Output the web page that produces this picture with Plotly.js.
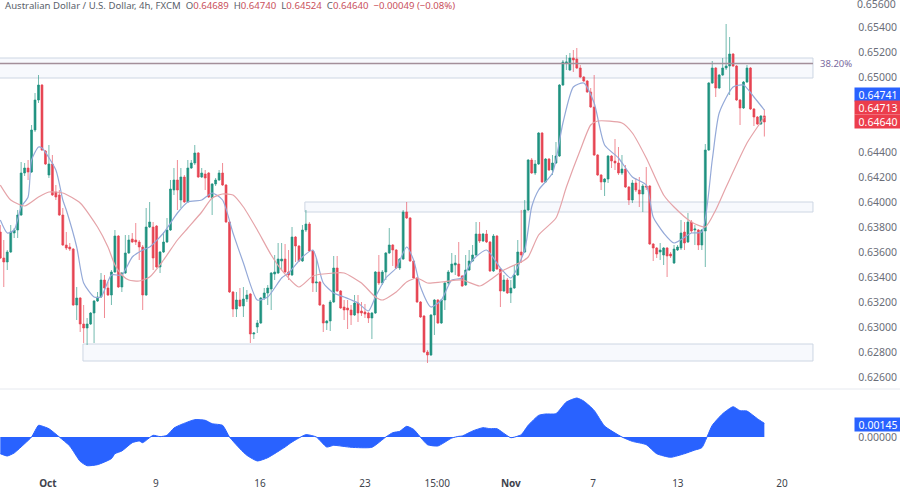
<!DOCTYPE html>
<html><head><meta charset="utf-8">
<script src="https://cdn.plot.ly/plotly-3.0.1.min.js"></script>
<style>html,body{margin:0;padding:0;background:#fff}#c{width:900px;height:491px}</style>
</head><body><div id="c"></div>
<script>
const opens=[0.63760,0.63552,0.63520,0.63600,0.63752,0.63776,0.63896,0.64232,0.64272,0.64240,
0.64576,0.64816,0.64936,0.64408,0.64216,0.64304,0.64080,0.64056,0.63896,0.63656,
0.63640,0.63624,0.63176,0.63232,0.63024,0.62992,0.63024,0.63112,0.63208,0.63240,
0.63376,0.63312,0.63256,0.63440,0.63728,0.63320,0.63432,0.63592,0.63704,0.63696,
0.63680,0.63640,0.63256,0.63800,0.63800,0.63808,0.63480,0.63600,0.63680,0.63776,
0.64096,0.64176,0.64016,0.64200,0.64000,0.64272,0.64312,0.64392,0.64200,0.64224,
0.64232,0.64032,0.64144,0.64176,0.64232,0.64136,0.63840,0.63280,0.63144,0.63216,
0.63168,0.63224,0.63264,0.62944,0.63000,0.63032,0.63232,0.63272,0.63304,0.63424,
0.63432,0.63528,0.63544,0.63440,0.63416,0.63720,0.63648,0.63528,0.63776,0.63824,
0.63608,0.63352,0.63360,0.63176,0.63032,0.63048,0.63200,0.63472,0.63288,0.63160,
0.63152,0.63136,0.63096,0.63192,0.63128,0.63120,0.63112,0.63072,0.63112,0.63440,
0.63352,0.63440,0.63592,0.63656,0.63616,0.63472,0.63544,0.63920,0.63872,0.63528,
0.63392,0.63200,0.63088,0.62800,0.62776,0.63096,0.63216,0.63032,0.63216,0.63352,
0.63440,0.63496,0.63504,0.63408,0.63336,0.63456,0.63528,0.63576,0.63744,0.63688,
0.63744,0.63680,0.63448,0.63728,0.63464,0.63288,0.63376,0.63272,0.63312,0.63416,
0.63600,0.63600,0.63936,0.64336,0.64232,0.64304,0.64552,0.64160,0.64344,0.64256,
0.64312,0.64368,0.64936,0.65112,0.65056,0.65152,0.65144,0.65072,0.65000,0.64968,
0.64880,0.64760,0.64376,0.64216,0.64160,0.64184,0.64368,0.64328,0.64312,0.64232,
0.64264,0.64120,0.64016,0.64152,0.64096,0.64064,0.64128,0.64128,0.63664,0.63632,
0.63600,0.63576,0.63632,0.63584,0.63512,0.63616,0.63632,0.63760,0.63680,0.63840,
0.63776,0.63776,0.63656,0.63768,0.64416,0.64952,0.65072,0.64912,0.65016,0.65072,
0.65088,0.65184,0.65088,0.64816,0.64752,0.64960,0.65072,0.64744,0.64680,0.64624,
0.64689];
const highs=[0.63816,0.63696,0.63616,0.63816,0.63792,0.63936,0.64320,0.64312,0.64336,0.64616,
0.64872,0.65016,0.64944,0.64416,0.64456,0.64376,0.64136,0.64096,0.63952,0.63760,
0.63672,0.63632,0.63320,0.63240,0.63176,0.63072,0.63120,0.63216,0.63280,0.63432,
0.63416,0.63360,0.63456,0.63776,0.63736,0.63440,0.63736,0.63736,0.63752,0.63832,
0.63696,0.63656,0.63952,0.64000,0.63840,0.63816,0.63608,0.63760,0.63872,0.64176,
0.64272,0.64336,0.64272,0.64216,0.64336,0.64336,0.64456,0.64400,0.64272,0.64256,
0.64240,0.64152,0.64192,0.64256,0.64312,0.64144,0.63848,0.63288,0.63280,0.63312,
0.63320,0.63296,0.63272,0.62960,0.63056,0.63240,0.63312,0.63336,0.63440,0.63576,
0.63672,0.63672,0.63664,0.63616,0.63800,0.63728,0.63656,0.63816,0.63936,0.63840,
0.63616,0.63552,0.63368,0.63184,0.63056,0.63216,0.63568,0.63568,0.63296,0.63216,
0.63216,0.63176,0.63256,0.63256,0.63200,0.63184,0.63120,0.63120,0.63448,0.63576,
0.63456,0.63600,0.63792,0.63664,0.63624,0.63552,0.63936,0.64000,0.63880,0.63536,
0.63400,0.63208,0.63096,0.62816,0.63104,0.63224,0.63224,0.63224,0.63360,0.63456,
0.63592,0.63576,0.63680,0.63416,0.63576,0.63616,0.63656,0.63840,0.63840,0.63752,
0.63776,0.63688,0.63744,0.63736,0.63472,0.63416,0.63392,0.63376,0.63496,0.63696,
0.63936,0.64016,0.64344,0.64352,0.64336,0.64560,0.64560,0.64352,0.64352,0.64376,
0.64480,0.64944,0.65136,0.65176,0.65192,0.65216,0.65232,0.65096,0.65008,0.64976,
0.64912,0.65016,0.64384,0.64224,0.64192,0.64376,0.64376,0.64504,0.64440,0.64376,
0.64296,0.64128,0.64176,0.64192,0.64200,0.64144,0.64280,0.64136,0.63672,0.63640,
0.63672,0.63640,0.63640,0.63600,0.63656,0.63656,0.63856,0.63840,0.63912,0.63856,
0.63816,0.63784,0.63784,0.64464,0.64960,0.65128,0.65080,0.65024,0.65152,0.65424,
0.65320,0.65192,0.65096,0.64824,0.64968,0.65096,0.65080,0.64752,0.64688,0.64696,
0.64740];
const lows=[0.63544,0.63320,0.63456,0.63592,0.63712,0.63712,0.63888,0.64208,0.64176,0.64232,
0.64560,0.64792,0.64408,0.64296,0.64192,0.64048,0.64016,0.63888,0.63648,0.63616,
0.63608,0.63168,0.63056,0.62960,0.62872,0.62856,0.63016,0.62872,0.63200,0.63232,
0.63072,0.63248,0.63176,0.63432,0.63312,0.63280,0.63424,0.63584,0.63672,0.63656,
0.63536,0.63136,0.63248,0.63792,0.63456,0.63472,0.63432,0.63592,0.63672,0.63768,
0.64056,0.63936,0.63952,0.63992,0.63992,0.64264,0.64296,0.64192,0.64192,0.64096,
0.64032,0.63896,0.64128,0.64168,0.64128,0.63832,0.63272,0.63080,0.63080,0.63160,
0.63080,0.63200,0.62872,0.62904,0.62952,0.63024,0.63216,0.63176,0.63136,0.63376,
0.63424,0.63456,0.63432,0.63376,0.63408,0.63520,0.63520,0.63520,0.63760,0.63600,
0.63280,0.63280,0.63168,0.62960,0.62976,0.62968,0.63192,0.63280,0.63144,0.63056,
0.62984,0.63016,0.63088,0.63040,0.63088,0.63072,0.63032,0.62904,0.63104,0.63336,
0.63336,0.63376,0.63584,0.63488,0.63464,0.63456,0.63536,0.63864,0.63520,0.63384,
0.63192,0.63072,0.62792,0.62712,0.62768,0.62936,0.63024,0.63024,0.63136,0.63336,
0.63432,0.63416,0.63400,0.63320,0.63328,0.63448,0.63520,0.63568,0.63672,0.63680,
0.63672,0.63440,0.63440,0.63456,0.63160,0.63280,0.63264,0.63192,0.63304,0.63408,
0.63512,0.63592,0.63928,0.64224,0.64216,0.64296,0.64152,0.64152,0.64248,0.64216,
0.64304,0.64360,0.64928,0.65056,0.65048,0.65040,0.65064,0.64992,0.64960,0.64872,
0.64752,0.64368,0.64208,0.64096,0.64048,0.64152,0.64272,0.64256,0.64216,0.64216,
0.64112,0.63976,0.63992,0.64080,0.63960,0.63920,0.64096,0.63656,0.63528,0.63552,
0.63536,0.63496,0.63400,0.63552,0.63504,0.63608,0.63616,0.63616,0.63672,0.63752,
0.63656,0.63616,0.63616,0.63480,0.64408,0.64944,0.64840,0.64904,0.65008,0.65056,
0.64856,0.65080,0.64808,0.64616,0.64744,0.64952,0.64736,0.64608,0.64616,0.64616,
0.64524];
const closes=[0.63552,0.63520,0.63600,0.63760,0.63776,0.63896,0.64232,0.64272,0.64240,0.64576,
0.64816,0.64936,0.64416,0.64304,0.64304,0.64056,0.64040,0.63896,0.63656,0.63632,
0.63624,0.63176,0.63232,0.63024,0.62992,0.63024,0.63112,0.63208,0.63240,0.63376,
0.63312,0.63256,0.63440,0.63728,0.63320,0.63432,0.63592,0.63696,0.63680,0.63680,
0.63640,0.63256,0.63800,0.63840,0.63552,0.63480,0.63600,0.63680,0.63776,0.64104,
0.64176,0.64096,0.64200,0.64000,0.64272,0.64312,0.64392,0.64200,0.64232,0.64192,
0.64040,0.64144,0.64176,0.64232,0.64136,0.63840,0.63280,0.63144,0.63216,0.63168,
0.63224,0.63256,0.62944,0.62952,0.63032,0.63232,0.63272,0.63312,0.63432,0.63440,
0.63544,0.63544,0.63440,0.63416,0.63720,0.63648,0.63528,0.63776,0.63824,0.63608,
0.63352,0.63360,0.63176,0.63032,0.63048,0.63200,0.63472,0.63288,0.63152,0.63136,
0.63136,0.63096,0.63192,0.63112,0.63112,0.63104,0.63072,0.63112,0.63440,0.63352,
0.63440,0.63592,0.63656,0.63616,0.63472,0.63544,0.63920,0.63872,0.63528,0.63392,
0.63200,0.63080,0.62800,0.62776,0.63096,0.63216,0.63032,0.63216,0.63352,0.63440,
0.63504,0.63512,0.63408,0.63328,0.63456,0.63528,0.63576,0.63744,0.63688,0.63744,
0.63680,0.63448,0.63728,0.63464,0.63288,0.63376,0.63272,0.63312,0.63416,0.63600,
0.63576,0.63936,0.64336,0.64232,0.64304,0.64552,0.64160,0.64344,0.64256,0.64312,
0.64368,0.64936,0.65120,0.65120,0.65152,0.65136,0.65072,0.65000,0.64968,0.64880,
0.64760,0.64376,0.64216,0.64160,0.64184,0.64368,0.64328,0.64312,0.64232,0.64264,
0.64120,0.64016,0.64152,0.64096,0.64064,0.64128,0.64120,0.63664,0.63632,0.63584,
0.63616,0.63632,0.63568,0.63568,0.63624,0.63640,0.63752,0.63672,0.63840,0.63768,
0.63784,0.63656,0.63776,0.64416,0.64952,0.65072,0.64912,0.65016,0.65072,0.65088,
0.65184,0.65088,0.64816,0.64752,0.64960,0.65072,0.64744,0.64680,0.64624,0.64688,
0.64640];

const slowIdx=[0,3,7,11,14,18,23,28,31,33,35,37,40,43,47,51,54,58,61,64,67,70,74,78,81,86,90,96,99,104,108,110,114,117,120,123,127,133,138,141,145,150,152,155,160,163,167,170,172,179,182,186,191,194,199,203,206,209,215,219,220];
const slowMA=[0.64136,0.64016,0.63968,0.64040,0.64080,0.64072,0.63992,0.63800,0.63640,0.63496,0.63416,0.63376,0.63368,0.63400,0.63536,0.63696,0.63792,0.63920,0.64032,0.64064,0.64056,0.63960,0.63776,0.63576,0.63456,0.63320,0.63408,0.63432,0.63432,0.63352,0.63240,0.63216,0.63280,0.63360,0.63392,0.63352,0.63360,0.63376,0.63328,0.63376,0.63456,0.63520,0.63560,0.63736,0.63872,0.64120,0.64416,0.64616,0.64648,0.64632,0.64552,0.64352,0.64056,0.63960,0.63840,0.63800,0.63936,0.64120,0.64472,0.64640,0.64680];
const fastIdx=[0,2,4,6,8,9,11,12,16,18,19,22,24,27,29,32,35,38,41,43,47,51,54,58,61,64,67,70,74,77,81,83,87,90,91,93,96,99,103,106,108,111,114,117,119,121,124,127,130,133,136,140,144,147,151,153,155,159,162,165,168,171,174,178,182,186,188,191,194,199,202,205,207,211,214,217,220];
const fastMA=[0.63856,0.63752,0.63776,0.63960,0.64040,0.64336,0.64440,0.64432,0.64256,0.64016,0.63936,0.63640,0.63352,0.63240,0.63240,0.63416,0.63416,0.63560,0.63616,0.63640,0.63752,0.63912,0.64000,0.64016,0.64072,0.64016,0.63752,0.63512,0.63216,0.63240,0.63392,0.63432,0.63560,0.63616,0.63552,0.63352,0.63272,0.63240,0.63192,0.63128,0.63240,0.63392,0.63472,0.63640,0.63536,0.63320,0.63160,0.63216,0.63376,0.63392,0.63536,0.63616,0.63472,0.63392,0.63616,0.63960,0.64096,0.64232,0.64632,0.64920,0.64952,0.64792,0.64456,0.64352,0.64200,0.64136,0.63880,0.63752,0.63672,0.63752,0.63760,0.64336,0.64712,0.64920,0.64936,0.64840,0.64736];
const oscIdx=[0,2,4,7,9,11,12,14,17,20,23,25,28,32,33,35,38,40,41,44,46,48,50,52,56,59,61,64,66,69,71,74,77,82,84,88,91,94,96,101,107,111,113,115,117,119,123,126,130,132,133,136,139,141,143,147,150,152,155,157,160,163,166,168,171,174,179,182,186,189,193,197,200,202,205,208,211,213,215,218,220];
const oscValues=[-0.00177,-0.00201,-0.00169,-0.00071,0,0.00124,0.00116,0.00088,0,-0.00095,-0.00258,-0.00304,-0.00293,-0.00229,-0.00177,-0.00148,-0.00060,-0.00042,-0.00060,0.00018,0.00004,0.00018,0.00095,0.00131,0.00184,0.00177,0.00141,0.00124,0,-0.00124,-0.00194,-0.00254,-0.00219,-0.00106,-0.00053,0.00025,0,-0.00106,-0.00088,-0.00109,-0.00109,0,0.00046,0.00060,0.00113,0.00081,-0.00081,-0.00095,-0.00011,0.00007,0.00011,0.00064,0.00099,0.00088,0.00088,-0.00007,0.00025,0.00124,0.00229,0.00244,0.00247,0.00371,0.00413,0.00381,0.00282,0.00116,0,-0.00046,-0.00081,-0.00177,-0.00215,-0.00177,-0.00138,-0.00113,0.00124,0.00247,0.00321,0.00279,0.00275,0.00194,0.00145];

const priceTicks=[0.626,0.628,0.630,0.632,0.634,0.636,0.638,0.640,0.642,0.644,0.650,0.652,0.654];
const topPriceLabel='0.65600';
const timeTickIdx=[13.7,44.8,74.8,105,125.8,147,170.7,195.1,225.1];
const timeTickText=['<b>Oct</b>','9','16','23','15:00','<b>Nov</b>','7','13','20'];
const zoneStarts=[-2,87.7,23.8];
const zoneEnd=234;
const zoneTops=[0.65152,0.64000,0.62864];
const zoneBottoms=[0.64992,0.63920,0.62728];
const fibLevel=0.65108;
const fibLabel='38.20%';
const chipTexts=['0.64741','0.64713','0.64640'];
const chipColors=['#2962ff','#ec3d4c','#ec3d4c'];
const chipY=[94.5,108,121.8];
const oscChipText='0.00145';
const headerName='Australian Dollar / U.S. Dollar, 4h, FXCM';
const headerParts=[['O','0.64689'],['H','0.64740'],['L','0.64524'],['C','0.64640']];
const headerChange='−0.00049 (−0.08%)';

const W=900,H=491,paneBottom=389,oscTop=390,oscBottom=476;
const FONT='"Noto Sans", "DejaVu Sans", sans-serif';
const idx=closes.map((_,i)=>i);
const xr=[-0.0864,259.06];
const red='#e64452',green='#1f9280';
const hdrRed='#c9515c',hdrGray='#5b5f6b';
const header='<span style="color:'+hdrGray+'">'+headerName+'</span>  '+
 headerParts.map(p=>'<span style="color:'+hdrGray+'">'+p[0]+'</span><span style="color:'+hdrRed+'">'+p[1]+'</span>').join('  ')+
 '  <span style="color:'+hdrRed+'">'+headerChange+'</span>';

const data=[
 {type:'candlestick',x:idx,open:opens,high:highs,low:lows,close:closes,xaxis:'x',yaxis:'y',
  increasing:{line:{color:'rgba(31,146,128,0.62)',width:1},fillcolor:green},
  decreasing:{line:{color:'rgba(230,68,82,0.62)',width:1},fillcolor:red},
  whiskerwidth:0,hoverinfo:'skip',showlegend:false},
 {type:'scatter',mode:'lines',x:fastIdx,y:fastMA,xaxis:'x',yaxis:'y',
  line:{color:'#94a9d8',width:1.2,shape:'spline',smoothing:0.6},hoverinfo:'skip',showlegend:false},
 {type:'scatter',mode:'lines',x:slowIdx,y:slowMA,xaxis:'x',yaxis:'y',
  line:{color:'#e5a3a8',width:1.2,shape:'spline',smoothing:0.6},hoverinfo:'skip',showlegend:false},
 {type:'scatter',mode:'lines',x:oscIdx,y:oscValues,xaxis:'x2',yaxis:'y2',fill:'tozeroy',fillcolor:'#2962ff',
  line:{color:'#2962ff',width:1,shape:'spline',smoothing:0.5},hoverinfo:'skip',showlegend:false}
];

const shapes=zoneStarts.map((s,k)=>({type:'rect',xref:'x',yref:'y',x0:s,x1:zoneEnd,y0:zoneBottoms[k],y1:zoneTops[k],
  fillcolor:'#f7f9fd',line:{color:'#cdd6e3',width:1},layer:'below'}));
shapes.push({type:'line',xref:'x',yref:'y',x0:-2,x1:zoneEnd,y0:fibLevel,y1:fibLevel,line:{color:'#a38f9a',width:1.3},layer:'above'});
shapes.push({type:'line',xref:'paper',yref:'paper',x0:0,x1:1,y0:1-paneBottom/H,y1:1-paneBottom/H,line:{color:'#e6e9ef',width:1}});

const chipBase={xref:'paper',yref:'paper',x:1,xanchor:'right',yanchor:'middle',showarrow:false,xshift:2,
  width:46,height:13,align:'center',font:{family:FONT,size:10.5,color:'#fff'},borderpad:0};
const annotations=chipTexts.map((t,k)=>Object.assign({},chipBase,{y:1-chipY[k]/H,text:t,bgcolor:chipColors[k]}));
annotations.push(Object.assign({},chipBase,{y:1-424/H,text:oscChipText,bgcolor:'#2962ff'}));
annotations.push({xref:'x',yref:'y',x:zoneEnd+1.5,y:fibLevel,xanchor:'left',yanchor:'middle',text:fibLabel,showarrow:false,
  font:{family:FONT,size:9.5,color:'#7a6aa0'}});
annotations.push({xref:'paper',yref:'paper',x:1,y:1-4/H,xanchor:'right',yanchor:'middle',xshift:-3,text:topPriceLabel,showarrow:false,
  font:{family:FONT,size:10.5,color:'#6a6d78'},borderpad:0});

const layout={
 width:W,height:H,autosize:false,paper_bgcolor:'#fff',plot_bgcolor:'#fff',
 margin:{l:0,r:0,t:0,b:0,pad:0},showlegend:false,dragmode:false,boxgap:0.2,
 font:{family:FONT,size:10.5,color:'#50535e'},
 title:{text:header,x:5/W,xref:'paper',xanchor:'left',y:1-5.5/H,yref:'paper',yanchor:'middle',font:{family:FONT,size:9.6,color:hdrGray},automargin:false},
 xaxis:{domain:[0,1],range:xr,anchor:'y',showticklabels:false,showgrid:false,zeroline:false,showline:false,ticks:'',rangeslider:{visible:false},fixedrange:true},
 yaxis:{domain:[1-paneBottom/H,1],range:[0.62504,0.65616],side:'right',anchor:'x',ticklabelposition:'inside',tickmode:'array',tickvals:priceTicks,ticktext:priceTicks.map(v=>v.toFixed(5)),
  showgrid:false,zeroline:false,showline:false,ticks:'',tickfont:{family:FONT,size:10.5,color:'#6a6d78'},fixedrange:true},
 xaxis2:{domain:[0,1],range:xr,anchor:'y2',tickmode:'array',tickvals:timeTickIdx,ticktext:timeTickText,showgrid:false,zeroline:false,showline:false,ticks:'',ticklen:0,
  tickfont:{family:FONT,size:10,color:'#40434d'},fixedrange:true},
 yaxis2:{domain:[1-oscBottom/H,1-oscTop/H],range:[-0.00413,0.00498],side:'right',anchor:'x2',ticklabelposition:'inside',tickmode:'array',tickvals:[0],ticktext:['0.00000'],
  showgrid:false,zeroline:false,showline:false,ticks:'',tickfont:{family:FONT,size:10.5,color:'#6a6d78'},fixedrange:true},
 shapes:shapes,annotations:annotations
};
Plotly.newPlot('c',data,layout,{displayModeBar:false,staticPlot:true});
</script></body></html>
